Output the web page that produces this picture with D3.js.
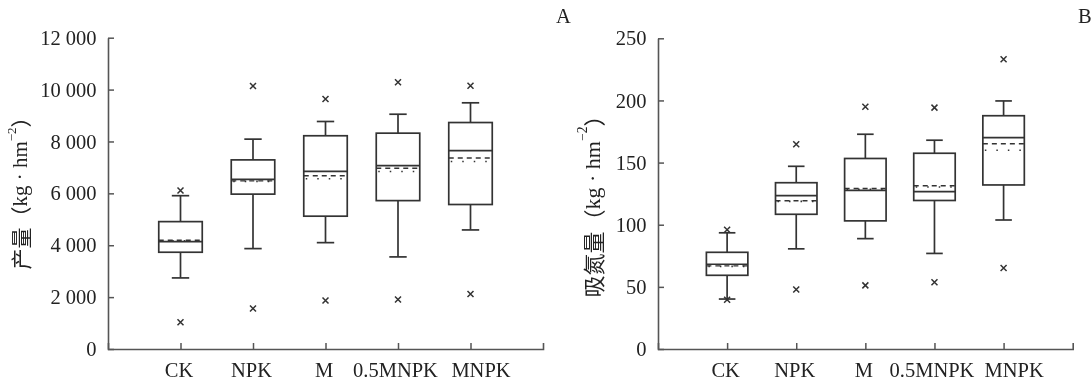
<!DOCTYPE html>
<html>
<head>
<meta charset="utf-8">
<script src="https://cdn.jsdelivr.net/npm/d3@7"></script>
<style>
  html, body { margin: 0; padding: 0; background: #fff; }
  svg { display: block; will-change: transform; }
  text { font-family: "Liberation Serif", "Times New Roman", "DejaVu Serif", serif; fill: #222; }
  .cjk { font-family: "Noto Sans CJK SC", sans-serif; }
</style>
</head>
<body>
<svg id="chart" width="1092" height="384"></svg>
<script>
// ---------- data ----------
const categories = ["CK", "NPK", "M", "0.5MNPK", "MNPK"];

// Panel A: yield (kg·hm-2)
const yieldWhiskerLow  = [2740, 3870, 4100, 3550, 4590];
const yieldQ1          = [3730, 5970, 5120, 5720, 5570];
const yieldMedian      = [4140, 6540, 6850, 7070, 7650];
const yieldQ3          = [4910, 7290, 8220, 8320, 8730];
const yieldWhiskerHigh = [5910, 8090, 8770, 9050, 9490];
const yieldDashed      = [4190, 6480, 6680, 6970, 7360];
const yieldDotted      = [4170, 6460, 6560, 6840, 7230];
const yieldOutLow      = [1030, 1560, 1870, 1910, 2120];
const yieldOutHigh     = [6110, 10140, 9635, 10280, 10150];
const yieldTicks       = [0, 2000, 4000, 6000, 8000, 10000, 12000];

// Panel B: N uptake (kg·hm-2)
const nWhiskerLow  = [40.2, 80.6, 88.8, 76.9, 103.8];
const nQ1          = [59.3, 108.4, 103.1, 119.5, 132.0];
const nMedian      = [68.2, 123.4, 127.7, 126.6, 170.0];
const nQ3          = [77.8, 133.8, 153.3, 157.5, 187.7];
const nWhiskerHigh = [93.5, 147.0, 172.8, 168.0, 199.6];
const nDashed      = [66.9, 119.3, 129.1, 131.4, 165.2];
const nDotted      = [66.5, 118.8, 128.5, 130.3, 159.9];
const nOutLow      = [39.6, 47.8, 51.2, 53.7, 65.1];
const nOutHigh     = [95.9, 164.7, 194.9, 194.2, 233.1];
const nTicks       = [0, 50, 100, 150, 200, 250];

// ---------- drawing ----------
const svg = d3.select("#chart");
const locale = d3.formatLocale({ decimal: ".", thousands: " ", grouping: [3], currency: ["", ""] });
const fmt = locale.format(",d");
const LINE = "#333";
const SERIF = "'Liberation Serif', 'Times New Roman', 'DejaVu Serif', serif";

svg.append("rect").attr("width", 1092).attr("height", 384).attr("fill", "#fff");

function panel(opts) {
  const { x0, x1, yTop, yBot, yMax, ticks, series, label, labelX, labelY, labelSize, letter, letterX } = opts;
  const g = svg.append("g");
  const x = d3.scalePoint().domain(categories).range([x0, x1]).padding(1);
  const y = d3.scaleLinear().domain([0, yMax]).range([yBot, yTop]);
  const step = x.step();
  const bw = step * 0.6, cw = step * 0.24;

  // y axis
  const ya = g.append("g").attr("transform", `translate(${x0},0)`)
    .call(d3.axisLeft(y).tickValues(ticks).tickFormat(fmt).tickSizeInner(-6).tickSizeOuter(0).tickPadding(11.5));
  ya.attr("font-family", SERIF);
  ya.select(".domain").attr("stroke", "#555").attr("stroke-width", 1.6);
  ya.selectAll(".tick line").attr("stroke", "#555").attr("stroke-width", 1.5);
  ya.selectAll(".tick text").attr("font-size", 20.5).attr("fill", "#222").style("font-family", SERIF);

  // x axis
  const xa = g.append("g").attr("transform", `translate(0,${yBot})`)
    .call(d3.axisBottom(x).tickSizeInner(-6).tickSizeOuter(-6).tickPadding(0));
  xa.attr("font-family", SERIF);
  xa.select(".domain").attr("stroke", "#555").attr("stroke-width", 1.6);
  xa.selectAll(".tick line").attr("stroke", "#555").attr("stroke-width", 1.5);
  xa.selectAll(".tick text").attr("font-size", 20.5).attr("fill", "#222")
    .attr("dy", null).attr("y", 27.5)
    .attr("x", d => d === "MNPK" ? 10 : (d === "0.5MNPK" ? -3 : -2))
    .style("font-family", SERIF);

  // boxes
  const s = series;
  const gb = g.append("g").attr("stroke", LINE).attr("stroke-width", 1.7).attr("fill", "none");
  categories.forEach((c, i) => {
    const cx = x(c);
    gb.append("line").attr("x1", cx).attr("x2", cx).attr("y1", y(s.q3[i])).attr("y2", y(s.hi[i]));
    gb.append("line").attr("x1", cx).attr("x2", cx).attr("y1", y(s.q1[i])).attr("y2", y(s.lo[i]));
    gb.append("line").attr("x1", cx - cw / 2).attr("x2", cx + cw / 2).attr("y1", y(s.hi[i])).attr("y2", y(s.hi[i]));
    gb.append("line").attr("x1", cx - cw / 2).attr("x2", cx + cw / 2).attr("y1", y(s.lo[i])).attr("y2", y(s.lo[i]));
    gb.append("rect").attr("x", cx - bw / 2).attr("width", bw)
      .attr("y", y(s.q3[i])).attr("height", y(s.q1[i]) - y(s.q3[i]));
    gb.append("line").attr("x1", cx - bw / 2).attr("x2", cx + bw / 2).attr("y1", y(s.med[i])).attr("y2", y(s.med[i]));
    gb.append("line").attr("x1", cx - bw / 2).attr("x2", cx + bw / 2).attr("y1", y(s.dash[i])).attr("y2", y(s.dash[i]))
      .attr("stroke-dasharray", "5,4").attr("stroke-width", 1.4);
    gb.append("line").attr("x1", cx - bw / 2 + 2).attr("x2", cx + bw / 2).attr("y1", y(s.dot[i])).attr("y2", y(s.dot[i]))
      .attr("stroke-dasharray", "1.5,10").attr("stroke-width", 1.6);
    [s.olo[i], s.ohi[i]].forEach(v => {
      const py = y(v), r = 3;
      gb.append("path").attr("d", `M${cx - r},${py - r}L${cx + r},${py + r}M${cx - r},${py + r}L${cx + r},${py - r}`)
        .attr("stroke-width", 1.5);
    });
  });

  // y label
  const t = g.append("text")
    .attr("transform", `translate(${labelX},${labelY}) rotate(-90)`)
    .attr("text-anchor", "middle").attr("dominant-baseline", "central")
    .attr("font-size", labelSize);
  t.append("tspan").attr("class", "cjk").text(label + "（");
  t.append("tspan").text("kg · hm");
  t.append("tspan").attr("font-size", labelSize * 0.62).attr("dy", -labelSize * 0.42).text("−2");
  t.append("tspan").attr("class", "cjk").attr("dy", labelSize * 0.42).text("）");

  // panel letter
  g.append("text").attr("x", letterX).attr("y", 23).attr("font-size", 20.5).text(letter);
}

panel({
  x0: 108, x1: 543, yTop: 37.7, yBot: 349, yMax: 12000, ticks: yieldTicks,
  series: { lo: yieldWhiskerLow, q1: yieldQ1, med: yieldMedian, q3: yieldQ3, hi: yieldWhiskerHigh,
            dash: yieldDashed, dot: yieldDotted, olo: yieldOutLow, ohi: yieldOutHigh },
  label: "产量", labelX: 19.5, labelY: 188, labelSize: 21, letter: "A", letterX: 556
});

panel({
  x0: 658, x1: 1072.7, yTop: 38.3, yBot: 349, yMax: 250, ticks: nTicks,
  series: { lo: nWhiskerLow, q1: nQ1, med: nMedian, q3: nQ3, hi: nWhiskerHigh,
            dash: nDashed, dot: nDotted, olo: nOutLow, ohi: nOutHigh },
  label: "吸氮量", labelX: 591.5, labelY: 201, labelSize: 22, letter: "B", letterX: 1078
});
</script>
</body>
</html>
